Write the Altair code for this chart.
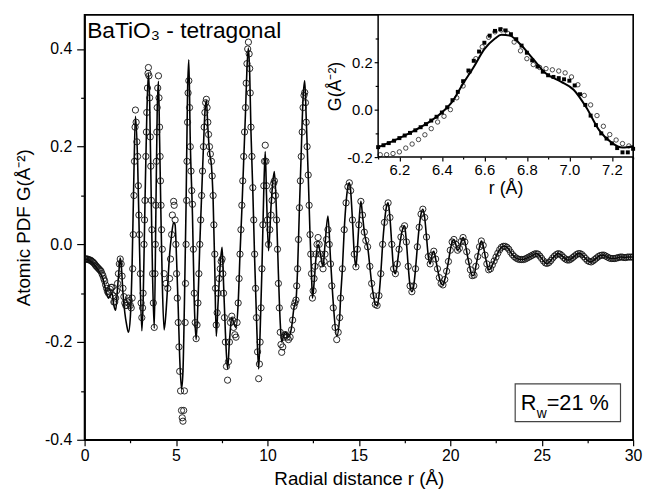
import altair as alt
import pandas as pd

# ---------------- main panel data ----------------
# low-r part: observed (circles) and calculated (line) differ here
r_low = [0.0, 0.1, 0.2, 0.3, 0.4, 0.5, 0.6, 0.7, 0.8, 0.9, 1.0, 1.1, 1.2, 1.3, 1.4, 1.5, 1.6, 1.7, 1.8, 1.9,
         1.95, 2.0, 2.1, 2.2, 2.3, 2.4, 2.5, 2.6, 2.7, 2.78, 2.9, 3.0, 3.13, 3.2, 3.3, 3.4, 3.49, 3.56, 3.65, 3.72,
         3.81, 3.9, 3.97, 4.04, 4.1, 4.18, 4.25, 4.35, 4.45, 4.55, 4.65, 4.76, 4.87, 4.95, 5.03, 5.12, 5.2, 5.3, 5.38, 5.46,
         5.55, 5.63, 5.70, 5.78, 5.9, 6.0, 6.1, 6.2, 6.3, 6.4, 6.5, 6.58, 6.66, 6.74, 6.83, 6.94, 7.03, 7.12, 7.2, 7.3,
         7.42, 7.52, 7.6, 7.7, 7.82, 7.92, 8.05, 8.15, 8.28, 8.4, 8.5, 8.6, 8.7, 8.8, 8.88, 8.96, 9.03, 9.1, 9.2, 9.3,
         9.4, 9.52, 9.6, 9.7, 9.8, 9.88, 9.95, 10.06, 10.2, 10.3, 10.38, 10.5, 10.6, 10.7, 10.78, 10.9, 11.0, 11.15, 11.32, 11.45,
         11.56, 11.65, 11.75, 11.85, 11.95, 12.04, 12.12, 12.23, 12.33, 12.41, 12.46, 12.55, 12.65, 12.77, 12.9, 13.04, 13.15, 13.31, 13.45, 13.6,
         13.79, 13.95]
obs_low = [-0.030, -0.030, -0.031, -0.032, -0.035, -0.038, -0.043, -0.047, -0.051, -0.055, -0.064, -0.075, -0.090, -0.100, -0.092, -0.088, -0.118, -0.110, -0.080, -0.040,
           -0.030, -0.040, -0.090, -0.120, -0.125, -0.110, -0.125, -0.110, 0.100, 0.275, 0.180, 0.020, -0.150, -0.100, 0.090, 0.270, 0.362, 0.300, 0.090, -0.060,
           -0.170, 0.080, 0.280, 0.345, 0.240, 0.080, -0.010, -0.060, -0.080, -0.090, -0.070, 0.020, 0.088, 0.050, -0.060, -0.160, -0.260, -0.340, -0.362, -0.300,
           0.000, 0.250, 0.335, 0.200, 0.082, -0.100, -0.193, -0.120, 0.000, 0.100, 0.200, 0.270, 0.297, 0.250, 0.200, 0.170, 0.100, -0.020, -0.165, -0.100,
           -0.050, -0.030, -0.100, -0.200, -0.278, -0.200, -0.147, -0.170, -0.190, -0.120, -0.020, 0.080, 0.180, 0.280, 0.370, 0.414, 0.360, 0.240, 0.116, -0.020,
           -0.150, -0.275, -0.200, -0.050, 0.120, 0.203, 0.120, 0.000, 0.060, 0.110, 0.130, 0.050, -0.080, -0.180, -0.221, -0.190, -0.185, -0.195, -0.175, -0.127,
           -0.114, -0.050, 0.075, 0.180, 0.280, 0.311, 0.250, 0.142, 0.020, -0.060, -0.110, -0.070, -0.020, 0.014, -0.020, -0.050, -0.020, 0.030, -0.040, -0.130,
           -0.195, -0.150]
calc_low = [-0.030, -0.031, -0.032, -0.034, -0.037, -0.040, -0.045, -0.050, -0.056, -0.062, -0.070, -0.085, -0.100, -0.110, -0.105, -0.100, -0.125, -0.135, -0.090, -0.045,
            -0.028, -0.040, -0.100, -0.140, -0.165, -0.180, -0.150, -0.040, 0.150, 0.262, 0.170, 0.000, -0.177, -0.120, 0.080, 0.260, 0.350, 0.290, 0.080, -0.070,
            -0.172, 0.070, 0.270, 0.334, 0.220, 0.050, -0.080, -0.175, -0.140, -0.080, -0.020, 0.020, 0.045, 0.040, -0.030, -0.130, -0.230, -0.296, -0.260, -0.120,
            0.080, 0.310, 0.378, 0.210, 0.060, -0.120, -0.195, -0.120, 0.000, 0.100, 0.200, 0.270, 0.295, 0.240, 0.190, 0.160, 0.090, -0.050, -0.188, -0.120,
            -0.040, -0.006, -0.080, -0.180, -0.255, -0.200, -0.150, -0.160, -0.170, -0.120, -0.020, 0.070, 0.170, 0.270, 0.360, 0.402, 0.350, 0.230, 0.110, -0.030,
            -0.150, -0.255, -0.180, -0.050, 0.110, 0.190, 0.100, -0.013, 0.080, 0.130, 0.149, 0.060, -0.060, -0.160, -0.200, -0.185, -0.180, -0.190, -0.170, -0.130,
            -0.115, -0.050, 0.075, 0.190, 0.300, 0.335, 0.260, 0.142, 0.020, -0.060, -0.110, -0.080, -0.030, 0.000, -0.020, -0.045, 0.000, 0.058, -0.030, -0.120,
            -0.188, -0.150]

# further observed circles read along the flanks of the peaks (circles only)
r_obs_extra = [0.05, 0.15, 0.25, 0.35, 0.45, 0.55, 0.65, 0.75, 0.85, 0.95, 1.05, 1.15, 1.25, 1.35, 1.45, 1.55, 1.65, 1.75, 1.85, 2.05,
               2.15, 2.25, 2.35, 2.45, 2.55, 2.63, 2.66, 2.73, 2.76, 2.82, 2.86, 2.94, 2.97, 3.05, 3.09, 3.17, 3.25, 3.28, 3.35, 3.38,
               3.44, 3.47, 3.52, 3.59, 3.62, 3.68, 3.76, 3.85, 3.87, 3.93, 3.95, 4.00, 4.07, 4.13, 4.15, 4.21, 4.70, 4.80, 4.90, 4.99,
               5.07, 5.16, 5.25, 5.34, 5.42, 5.50, 5.52, 5.58, 5.60, 5.66, 5.74, 5.82, 5.86, 5.95, 6.05, 6.15, 6.25, 6.35, 6.45, 6.54,
               6.62, 6.70, 6.78, 6.88, 6.98, 7.07, 7.16, 7.25, 7.36, 7.47, 7.56, 7.65, 7.76, 7.87, 7.98, 8.10, 8.22, 8.34, 8.45, 8.55,
               8.65, 8.75, 8.84, 8.92, 9.00, 9.06, 9.15, 9.25, 9.35, 9.46, 9.56, 9.65, 9.75, 9.84, 9.92, 10.00, 10.13, 10.25, 10.34, 10.44,
               10.55, 10.65, 10.74, 10.84, 10.95, 11.08, 11.24, 11.38, 11.50, 11.60, 11.70, 11.80, 11.90, 12.00, 12.08, 12.17, 12.28, 12.37, 12.50, 12.60,
               12.71, 12.83, 12.97, 13.10, 13.23, 13.38, 13.52, 13.70, 13.87]
g_obs_extra = [-0.030, -0.030, -0.032, -0.033, -0.036, -0.040, -0.045, -0.049, -0.053, -0.060, -0.070, -0.083, -0.096, -0.097, -0.088, -0.105, -0.118, -0.095, -0.060, -0.065,
               -0.107, -0.125, -0.118, -0.115, -0.130, -0.050, 0.020, 0.170, 0.240, 0.250, 0.210, 0.120, 0.060, -0.060, -0.120, -0.130, 0.000, 0.050, 0.180, 0.230,
               0.320, 0.350, 0.345, 0.220, 0.160, 0.030, -0.120, -0.060, 0.000, 0.170, 0.230, 0.320, 0.300, 0.180, 0.130, 0.030, -0.030, 0.060, 0.080, 0.000,
               -0.110, -0.210, -0.300, -0.355, -0.340, -0.160, -0.080, 0.090, 0.170, 0.310, 0.280, 0.150, 0.110, -0.010, -0.160, -0.165, -0.060, 0.050, 0.150, 0.240,
               0.290, 0.280, 0.225, 0.185, 0.140, 0.040, -0.090, -0.140, -0.070, -0.035, -0.060, -0.150, -0.250, -0.240, -0.160, -0.155, -0.185, -0.160, -0.070, 0.030,
               0.130, 0.230, 0.330, 0.400, 0.390, 0.310, 0.180, 0.050, -0.090, -0.220, -0.245, -0.130, 0.040, 0.170, 0.170, 0.050, 0.030, 0.090, 0.125, 0.100,
               -0.010, -0.130, -0.205, -0.210, -0.185, -0.190, -0.190, -0.155, -0.120, -0.085, 0.010, 0.130, 0.230, 0.305, 0.290, 0.200, 0.080, -0.020, -0.095, -0.045,
               0.000, 0.000, -0.040, -0.035, 0.010, 0.000, -0.085, -0.170, -0.180]

# high-r part: observed and calculated coincide
r_mid = [14.0, 14.1, 14.2, 14.3, 14.4, 14.48, 14.55, 14.65, 14.75, 14.84, 14.92, 15.0, 15.11, 15.2, 15.3, 15.38, 15.48, 15.6, 15.7, 15.8,
         15.9, 16.0]
g_mid = [-0.110, -0.050, 0.030, 0.085, 0.118, 0.126, 0.110, 0.050, -0.020, -0.046, -0.010, 0.040, 0.088, 0.060, 0.025, 0.008, -0.005, -0.045, -0.080, -0.105,
         -0.123, -0.125]

tail_start = 16.1
tail_step = 0.1
g_tail = [-0.105, -0.060, 0.000, 0.045, 0.075, 0.085, 0.055, 0.000, -0.050, -0.060,
          -0.040, -0.010, 0.015, 0.032, 0.038, 0.005, -0.045, -0.085, -0.097, -0.085,
          -0.050, -0.005, 0.035, 0.062, 0.072, 0.055, 0.015, -0.025, -0.040, -0.022,
          -0.014, -0.030, -0.050, -0.068, -0.080, -0.083, -0.072, -0.055, -0.035, -0.012,
          0.005, 0.010, 0.000, -0.012, -0.008, 0.006, 0.014, 0.005, -0.015, -0.035,
          -0.052, -0.064, -0.063, -0.045, -0.025, -0.005, 0.007, -0.002, -0.022, -0.040,
          -0.052, -0.050, -0.042, -0.034, -0.026, -0.018, -0.011, -0.006, -0.004,
          -0.004, -0.006, -0.010, -0.016, -0.021, -0.025, -0.028, -0.030, -0.031, -0.031,
          -0.031, -0.030, -0.028, -0.026, -0.024, -0.022, -0.020, -0.019, -0.020, -0.024,
          -0.029, -0.034, -0.038, -0.039, -0.037, -0.033, -0.028, -0.024, -0.021, -0.019,
          -0.020, -0.023, -0.027, -0.030, -0.032, -0.032, -0.030, -0.027, -0.024, -0.021,
          -0.019, -0.019, -0.021, -0.025, -0.029, -0.033, -0.035, -0.036, -0.034, -0.031,
          -0.028, -0.025, -0.023, -0.022, -0.022, -0.024, -0.026, -0.028, -0.029, -0.029,
          -0.029, -0.028, -0.027, -0.026, -0.026, -0.027, -0.027, -0.026, -0.026, -0.026,
          -0.026]
r_tail = [round(tail_start + tail_step * i, 2) for i in range(len(g_tail))]

r_high = r_mid + r_tail
g_high = g_mid + g_tail

calc_df = pd.DataFrame({"r": r_low + r_high, "g": calc_low + g_high})
obs_df = pd.DataFrame({"r": r_low + r_obs_extra + r_high, "g": obs_low + g_obs_extra + g_high})

# ---------------- inset data ----------------
ins_r_line = [6.10, 6.15, 6.20, 6.25, 6.30, 6.35, 6.40, 6.45, 6.50, 6.55, 6.60, 6.65, 6.68, 6.72, 6.77, 6.83, 6.89, 6.96, 7.02, 7.08,
              7.14, 7.20, 7.25, 7.30]
ins_g_line = [-0.158, -0.140, -0.120, -0.098, -0.074, -0.046, -0.012, 0.035, 0.110, 0.180, 0.255, 0.300, 0.316, 0.312, 0.275, 0.213, 0.152, 0.118, 0.084, 0.009,
              -0.086, -0.140, -0.160, -0.154]

ins_r_sq = [6.100, 6.125, 6.150, 6.175, 6.200, 6.225, 6.250, 6.275, 6.300, 6.325, 6.350, 6.375, 6.400, 6.425, 6.450, 6.475, 6.500,
            6.525, 6.550, 6.575, 6.600, 6.625, 6.650, 6.675, 6.700, 6.725, 6.750, 6.775, 6.800, 6.825, 6.850, 6.875, 6.900,
            6.925, 6.950, 6.975, 7.000, 7.025, 7.050, 7.075, 7.100, 7.125, 7.150, 7.175, 7.200, 7.225, 7.250, 7.275, 7.300]
ins_g_sq = [-0.158, -0.150, -0.141, -0.131, -0.120, -0.109, -0.098, -0.087, -0.074, -0.061, -0.046, -0.030, -0.012, 0.010, 0.040, 0.075, 0.120,
            0.165, 0.206, 0.245, 0.282, 0.312, 0.332, 0.339, 0.334, 0.318, 0.297, 0.270, 0.240, 0.208, 0.182, 0.160, 0.145,
            0.138, 0.133, 0.128, 0.122, 0.102, 0.065, 0.020, -0.025, -0.065, -0.100, -0.122, -0.142, -0.162, -0.180, -0.180, -0.165]

ins_r_ci = [6.11, 6.14, 6.17, 6.20, 6.23, 6.26, 6.29, 6.32, 6.35, 6.38, 6.41, 6.44, 6.47, 6.50, 6.53, 6.56, 6.59, 6.62, 6.65, 6.68,
            6.71, 6.74, 6.77, 6.80, 6.83, 6.86, 6.89, 6.92, 6.95, 6.98, 7.01, 7.04, 7.07, 7.10, 7.13, 7.16, 7.19, 7.22, 7.25, 7.28]
ins_g_ci = [-0.190, -0.190, -0.185, -0.178, -0.162, -0.145, -0.126, -0.106, -0.080, -0.052, -0.028, 0.000, 0.050, 0.100, 0.160, 0.215, 0.265, 0.305, 0.328, 0.336,
            0.322, 0.285, 0.248, 0.215, 0.190, 0.178, 0.173, 0.168, 0.163, 0.155, 0.138, 0.105, 0.060, 0.020, -0.025, -0.070, -0.105, -0.128, -0.143, -0.153]

# ---------------- axes / scales ----------------
X_DOMAIN = [0, 30]
Y_DOMAIN = [-0.4, 0.47]
x_tick_values = [0, 2.5, 5, 7.5, 10, 12.5, 15, 17.5, 20, 22.5, 25, 27.5, 30]
y_tick_values = [-0.4, -0.3, -0.2, -0.1, 0.0, 0.1, 0.2, 0.3, 0.4]

INS_X_DOMAIN = [6.1, 7.3]
INS_Y_DOMAIN = [-0.2, 0.4]
ins_x_tick_values = [6.1, 6.2, 6.3, 6.4, 6.5, 6.6, 6.7, 6.8, 6.9, 7.0, 7.1, 7.2, 7.3]
ins_y_tick_values = [-0.2, -0.1, 0.0, 0.1, 0.2, 0.3]

W, H = 555, 430
INS_LEFT = 297      # inset left edge inside plot (px)
INS_BOTTOM = 144    # inset bottom edge inside plot (px)

FONT = "Liberation Sans"
even_tenth = "abs(round(datum.value*10)) % 2 === 0"
signed_label = "(datum.value < 0 ? '-' : '') + format(abs(datum.value), '.1f')"

xs = alt.Scale(domain=X_DOMAIN, nice=False, zero=False)
ys = alt.Scale(domain=Y_DOMAIN, nice=False, zero=False)
x_axis = alt.Axis(values=x_tick_values, title="Radial distance r (Å)", grid=False,
                  labelExpr="datum.value % 5 === 0 ? '' + datum.value : ''",
                  tickSize={"condition": {"test": "datum.value % 5 === 0", "value": 6}, "value": 3},
                  labelFlush=False, labelOverlap=False, labelPadding=2, labelFontSize=16,
                  titleFontSize=19, titlePadding=6, titleFontWeight="normal")
y_axis = alt.Axis(values=y_tick_values, title="Atomic PDF G(Å⁻²)", grid=False,
                  labelExpr=f"{even_tenth} ? {signed_label} : ''",
                  tickSize={"condition": {"test": even_tenth, "value": 8}, "value": 4},
                  labelOverlap=False, labelPadding=5, labelFontSize=16,
                  titleFontSize=19, titlePadding=11, titleFontWeight="normal")

ixs = alt.Scale(domain=INS_X_DOMAIN, range=[INS_LEFT, W], nice=False, zero=False)
iys = alt.Scale(domain=INS_Y_DOMAIN, range=[INS_BOTTOM, 0], nice=False, zero=False)
ix_axis = alt.Axis(orient="bottom", offset=-(H - INS_BOTTOM), values=ins_x_tick_values, title="r (Å)",
                   grid=False, domain=False, zindex=1,
                   labelExpr=f"{even_tenth} ? format(datum.value, '.1f') : ''",
                   tickSize={"condition": {"test": even_tenth, "value": 4}, "value": 2},
                   labelFlush=False, labelOverlap=False, labelPadding=2, labelFontSize=15,
                   titleFontSize=18, titlePadding=2, titleFontWeight="normal")
iy_axis = alt.Axis(orient="left", offset=-INS_LEFT, values=ins_y_tick_values, title="G(Å⁻²)",
                   grid=False, domain=False, zindex=1,
                   labelExpr=f"{even_tenth} ? {signed_label} : ''",
                   tickSize={"condition": {"test": even_tenth, "value": 4}, "value": 3},
                   labelOverlap=False, labelPadding=2, labelFontSize=15,
                   titleFontSize=18, titlePadding=2, titleFontWeight="normal")

# ---------------- main layers ----------------
frame_df = pd.DataFrame({"x0": [X_DOMAIN[0]], "x1": [X_DOMAIN[1]], "y0": [Y_DOMAIN[0]], "y1": [Y_DOMAIN[1]]})
frame = alt.Chart(frame_df).mark_rect(fillOpacity=0, stroke="black", strokeWidth=1.5).encode(
    x=alt.X("x0:Q", scale=xs, axis=x_axis), x2="x1:Q",
    y=alt.Y("y0:Q", scale=ys, axis=y_axis), y2="y1:Q")

main_line = alt.Chart(calc_df).mark_line(color="black", strokeWidth=1.6, interpolate="monotone", clip=True).encode(
    x=alt.X("r:Q", scale=xs, axis=x_axis), y=alt.Y("g:Q", scale=ys, axis=y_axis))
main_pts = alt.Chart(obs_df).mark_point(shape="circle", filled=False, size=40, color="#111111", strokeWidth=0.9,
                                        opacity=1, clip=True).encode(
    x=alt.X("r:Q", scale=xs, axis=x_axis), y=alt.Y("g:Q", scale=ys, axis=y_axis))

title_df = pd.DataFrame({"r": [0.14], "g": [0.4225], "t": ["BaTiO₃ - tetragonal"]})
title_txt = alt.Chart(title_df).mark_text(align="left", baseline="alphabetic", fontSize=23,
                                          font=FONT, color="black").encode(
    x=alt.X("r:Q", scale=xs, axis=x_axis), y=alt.Y("g:Q", scale=ys, axis=y_axis), text="t:N")

rw_box_df = pd.DataFrame({"x0": [23.55], "x1": [29.31], "y0": [-0.363], "y1": [-0.2855]})
rw_box = alt.Chart(rw_box_df).mark_rect(fill="white", stroke="#444444", strokeWidth=1.2).encode(
    x=alt.X("x0:Q", scale=xs, axis=x_axis), x2="x1:Q",
    y=alt.Y("y0:Q", scale=ys, axis=y_axis), y2="y1:Q")

rw_txt_df = pd.DataFrame({"r": [23.85, 24.73, 25.27], "g": [-0.3397, -0.3545, -0.3397],
                          "t": ["R", "w", "=21 %"], "fs": [22, 14, 22]})
rw_txt = alt.Chart(rw_txt_df).mark_text(align="left", baseline="alphabetic", font=FONT, color="black").encode(
    x=alt.X("r:Q", scale=xs, axis=x_axis), y=alt.Y("g:Q", scale=ys, axis=y_axis), text="t:N",
    size=alt.Size("fs:Q", scale=None, legend=None))

main = alt.layer(frame, main_line, main_pts, title_txt, rw_box, rw_txt)

# ---------------- inset layers ----------------
ins_bg_df = pd.DataFrame({"x0": [INS_X_DOMAIN[0]], "x1": [INS_X_DOMAIN[1]],
                          "y0": [INS_Y_DOMAIN[0]], "y1": [INS_Y_DOMAIN[1]]})
ins_bg = alt.Chart(ins_bg_df).mark_rect(fill="white", stroke="black", strokeWidth=1.5).encode(
    x=alt.X("x0:Q", scale=ixs, axis=ix_axis), x2="x1:Q",
    y=alt.Y("y0:Q", scale=iys, axis=iy_axis), y2="y1:Q")

ins_line = alt.Chart(pd.DataFrame({"r": ins_r_line, "g": ins_g_line})).mark_line(
    color="black", strokeWidth=2, interpolate="monotone").encode(
    x=alt.X("r:Q", scale=ixs, axis=ix_axis), y=alt.Y("g:Q", scale=iys, axis=iy_axis))
ins_sq = alt.Chart(pd.DataFrame({"r": ins_r_sq, "g": ins_g_sq})).mark_square(
    size=16, color="black", opacity=1).encode(
    x=alt.X("r:Q", scale=ixs, axis=ix_axis), y=alt.Y("g:Q", scale=iys, axis=iy_axis))
ins_ci = alt.Chart(pd.DataFrame({"r": ins_r_ci, "g": ins_g_ci})).mark_point(
    shape="circle", filled=False, size=20, color="black", strokeWidth=0.7, opacity=1).encode(
    x=alt.X("r:Q", scale=ixs, axis=ix_axis), y=alt.Y("g:Q", scale=iys, axis=iy_axis))

inset = alt.layer(ins_bg, ins_line, ins_sq, ins_ci)

chart = alt.layer(main, inset).resolve_scale(x="independent", y="independent").properties(
    width=W, height=H,
    background="white",
    autosize=alt.AutoSizeParams(type="none"),
    padding={"left": 77.5, "top": 4, "right": 10, "bottom": 50},
).configure_view(stroke="black", strokeWidth=1.5).configure_axis(
    labelFont=FONT, titleFont=FONT, labelColor="black", titleColor="black",
    domainColor="black", tickColor="black", domainWidth=1.5, tickWidth=1.2,
    titleFontWeight="normal",
)

chart.save("out.html", embed_options={"renderer": "svg", "actions": False})
